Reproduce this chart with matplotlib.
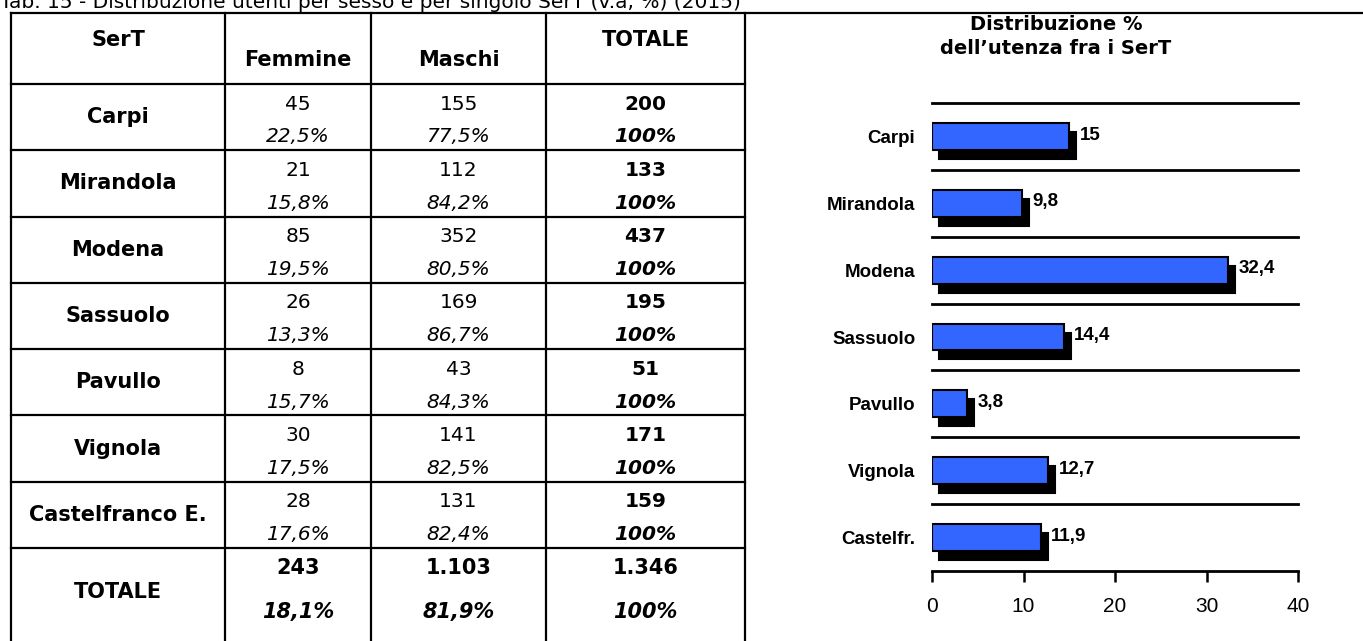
import matplotlib
matplotlib.use("Agg")
import matplotlib.pyplot as plt
import matplotlib.transforms as mtransforms
import numpy as np

# ---- data -------------------------------------------------------------
sert = ["Carpi", "Mirandola", "Modena", "Sassuolo", "Pavullo", "Vignola", "Castelfranco E."]
femmine = [45, 21, 85, 26, 8, 30, 28]
maschi = [155, 112, 352, 169, 43, 141, 131]
totale = [200, 133, 437, 195, 51, 171, 159]
femmine_pct = ["22,5%", "15,8%", "19,5%", "13,3%", "15,7%", "17,5%", "17,6%"]
maschi_pct = ["77,5%", "84,2%", "80,5%", "86,7%", "84,3%", "82,5%", "82,4%"]
tot_row = ["243", "1.103", "1.346"]
tot_row_pct = ["18,1%", "81,9%", "100%"]

bar_labels = ["Carpi", "Mirandola", "Modena", "Sassuolo", "Pavullo", "Vignola", "Castelfr."]
bar_values = [15, 9.8, 32.4, 14.4, 3.8, 12.7, 11.9]

W, H = 1363, 641
fig = plt.figure(figsize=(W / 100, H / 100), dpi=100)
fig.patch.set_facecolor("white")

# full-figure axes in pixel units for the table
tab = fig.add_axes([0, 0, 1, 1])
tab.set_xlim(0, W)
tab.set_ylim(H, 0)
tab.axis("off")

FONT = "DejaVu Sans"
BARFONT = "Liberation Sans"
lw = 1.6

cols = [11, 225, 371, 546, 745]
header_top, header_bot = 13, 84
row_h = (548 - header_bot) / len(sert)
rows = [header_bot + i * row_h for i in range(len(sert) + 1)]

# lines
tab.plot([cols[0], W], [header_top, header_top], color="black", lw=lw)
for y in rows:
    tab.plot([cols[0], cols[-1]], [y, y], color="black", lw=lw)
for x in cols:
    tab.plot([x, x], [header_top, H], color="black", lw=lw)

# caption (cut at the top edge as in the source)
tab.text(0, 8, "Tab. 15 - Distribuzione utenti per sesso e per singolo SerT (v.a, %) (2015)",
         fontsize=14.5, family=FONT, va="baseline", ha="left")

centers = [(cols[i] + cols[i + 1]) / 2 for i in range(4)]

# header
tab.text(centers[0], 40, "SerT", fontsize=15, weight="bold", family=FONT, ha="center", va="center")
tab.text(centers[1], 60, "Femmine", fontsize=15, weight="bold", family=FONT, ha="center", va="center")
tab.text(centers[2], 60, "Maschi", fontsize=15, weight="bold", family=FONT, ha="center", va="center")
tab.text(centers[3], 40, "TOTALE", fontsize=15, weight="bold", family=FONT, ha="center", va="center")

for i, name in enumerate(sert):
    top = rows[i]
    mid = top + row_h / 2
    tab.text(centers[0], mid, name, fontsize=15, weight="bold", family=FONT, ha="center", va="center")
    tab.text(centers[1], top + 20, str(femmine[i]), fontsize=14.5, family=FONT, ha="center", va="center")
    tab.text(centers[2], top + 20, str(maschi[i]), fontsize=14.5, family=FONT, ha="center", va="center")
    tab.text(centers[3], top + 20, str(totale[i]), fontsize=14.5, weight="bold", family=FONT,
             ha="center", va="center")
    tab.text(centers[1], top + 53, femmine_pct[i], fontsize=14.5, style="italic", family=FONT,
             ha="center", va="center")
    tab.text(centers[2], top + 53, maschi_pct[i], fontsize=14.5, style="italic", family=FONT,
             ha="center", va="center")
    tab.text(centers[3], top + 53, "100%", fontsize=14.5, style="italic", weight="bold", family=FONT,
             ha="center", va="center")

# total row
tab.text(centers[0], 592, "TOTALE", fontsize=15, weight="bold", family=FONT, ha="center", va="center")
for j in range(3):
    tab.text(centers[j + 1], 568, tot_row[j], fontsize=15, weight="bold", family=FONT,
             ha="center", va="center")
    tab.text(centers[j + 1], 612, tot_row_pct[j], fontsize=15, weight="bold", style="italic",
             family=FONT, ha="center", va="center")

# chart title
tab.text(1056, 24, "Distribuzione %", fontsize=14, weight="bold", family=FONT, ha="center", va="center")
tab.text(1056, 49, "dell\u2019utenza fra i SerT", fontsize=14, weight="bold", family=FONT,
         ha="center", va="center")

# ---- bar chart --------------------------------------------------------
ax_l, ax_r, ax_t, ax_b = 932, 1298, 103, 571
ax = fig.add_axes([ax_l / W, 1 - ax_b / H, (ax_r - ax_l) / W, (ax_b - ax_t) / H])
ax.patch.set_alpha(0)

y = np.arange(len(bar_values))
# drop shadow: same bars shifted right/down by a few pixels
shadow = mtransforms.offset_copy(ax.transData, fig=fig, x=7, y=-9, units="dots")
ax.barh(y, bar_values, height=0.4, color="black", edgecolor="black", lw=1.5,
        transform=shadow, zorder=2)
ax.barh(y, bar_values, height=0.4, color="#3366FF", edgecolor="black", lw=1.5, zorder=3)

for yi, v in zip(y, bar_values):
    ax.annotate(f"{v:g}".replace(".", ","), xy=(v, yi), xytext=(7.5, 1), textcoords="offset points",
                fontsize=13.5, weight="bold", family=BARFONT, va="center", ha="left")

for k in range(len(bar_values)):
    ax.axhline(k - 0.5, color="black", lw=2, zorder=1, clip_on=False)

ax.set_xlim(0, 40)
ax.set_ylim(len(bar_values) - 0.5, -0.5)
ax.set_yticks(y)
ax.set_yticklabels(bar_labels, fontsize=13.5, weight="bold", family=BARFONT)
ax.tick_params(axis="y", length=0, pad=12)
ax.set_xticks([0, 10, 20, 30, 40])
ax.tick_params(axis="x", direction="out", length=8, width=1.8, labelsize=15, pad=11)
for lbl in ax.get_xticklabels():
    lbl.set_family(BARFONT)
for s in ["left", "right", "top"]:
    ax.spines[s].set_visible(False)
ax.spines["bottom"].set_linewidth(2)

fig.savefig("out.png", dpi=100)
